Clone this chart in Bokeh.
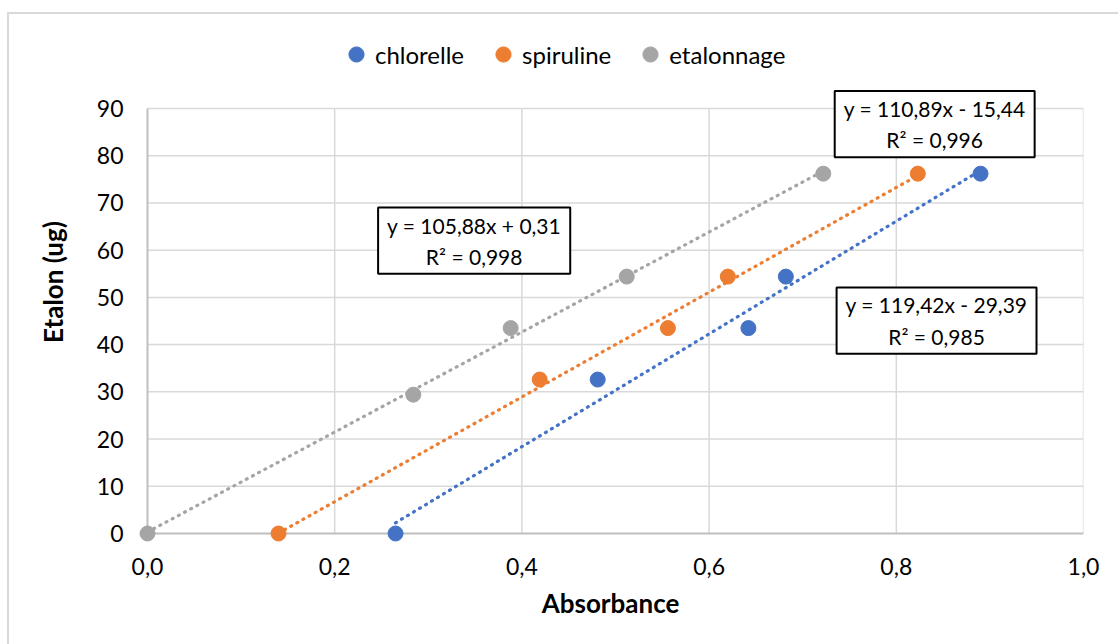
from bokeh.plotting import figure
from bokeh.models import (ColumnDataSource, Legend, LegendItem, Label, FixedTicker,
                          Range1d)
from bokeh.embed import file_html
from bokeh.resources import INLINE

# ---- data ----
series_names = ["chlorelle", "spiruline", "etalonnage"]
series_colors = ["#4472C4", "#ED7D31", "#A5A5A5"]

chlorelle_x = [0.265, 0.481, 0.642, 0.682, 0.890]
chlorelle_y = [0.0, 32.6, 43.5, 54.4, 76.2]

spiruline_x = [0.140, 0.419, 0.556, 0.620, 0.823]
spiruline_y = [0.0, 32.6, 43.5, 54.4, 76.2]

etalonnage_x = [0.0, 0.284, 0.388, 0.512, 0.722]
etalonnage_y = [0.0, 29.4, 43.5, 54.4, 76.2]

# linear trendlines (from the equations shown on the chart)
trend_slopes = [119.42, 110.89, 105.88]
trend_intercepts = [-29.39, -15.44, 0.31]
trend_labels = ["y = 119,42x - 29,39\nR² = 0,985",
                "y = 110,89x - 15,44\nR² = 0,996",
                "y = 105,88x + 0,31\nR² = 0,998"]
# label anchor positions in data units (centre of each box)
trend_label_x = [0.843, 0.841, 0.349]
trend_label_y = [45.1, 86.7, 62.0]

x_ticks = [0.0, 0.2, 0.4, 0.6, 0.8, 1.0]
x_tick_labels = ["0,0", "0,2", "0,4", "0,6", "0,8", "1,0"]
y_ticks = [0, 10, 20, 30, 40, 50, 60, 70, 80, 90]

xs = [chlorelle_x, spiruline_x, etalonnage_x]
ys = [chlorelle_y, spiruline_y, etalonnage_y]

FONT = "Lato"

# layout (pixels)
W, H = 1118, 644
PAD = 10                      # extra room so markers on the axes are not clipped
LEFT, RIGHT, TOP, BOTTOM = 147 - PAD, 35, 20, 111 - PAD
PX_X = 936.0                  # pixels for the 0..1 span
PX_Y = 425.0                  # pixels for the 0..90 span
x_min, x_max = x_ticks[0], x_ticks[-1]
y_min, y_max = y_ticks[0], y_ticks[-1]
x_start = x_min - PAD * (x_max - x_min) / PX_X
y_start = y_min - PAD * (y_max - y_min) / PX_Y
y_end = y_max + (533 - PX_Y - TOP) * (y_max - y_min) / PX_Y

p = figure(width=W, height=H, output_backend="svg", toolbar_location=None,
           x_range=Range1d(x_start, x_max), y_range=Range1d(y_start, y_end),
           min_border_left=LEFT, min_border_right=RIGHT, min_border_top=TOP,
           min_border_bottom=BOTTOM)
p.styles = {
    "background": "linear-gradient(#D9D9D9,#D9D9D9) 7px 12px / 2px 100% no-repeat,"
                  " linear-gradient(#D9D9D9,#D9D9D9) 7px 12px / 100% 2px no-repeat"
}
p.border_fill_color = None
p.background_fill_color = "white"
p.outline_line_color = None

# grid lines limited to the 0..1 x 0..90 box
p.grid.visible = False
gx = x_ticks[1:]
p.segment(x0=gx, y0=[y_min] * len(gx), x1=gx, y1=[y_max] * len(gx),
          line_color="#D9D9D9", line_width=1.5)
gy = y_ticks[1:]
p.segment(x0=[x_min] * len(gy), y0=gy, x1=[x_max] * len(gy), y1=gy,
          line_color="#D9D9D9", line_width=1.5)
# axis lines crossing at the origin
p.segment(x0=[x_min, x_min], y0=[y_min, y_min], x1=[x_max, x_min],
          y1=[y_min, y_max], line_color="#BFBFBF", line_width=2)

# axes (labels only)
p.xaxis.ticker = FixedTicker(ticks=x_ticks)
p.xaxis.major_label_overrides = {t: l for t, l in zip(x_ticks, x_tick_labels)}
p.yaxis.ticker = FixedTicker(ticks=y_ticks)
for ax in (p.xaxis, p.yaxis):
    ax.axis_line_color = None
    ax.major_tick_line_color = None
    ax.minor_tick_line_color = None
    ax.major_tick_out = 0
    ax.major_tick_in = 0
    ax.major_label_text_font = FONT
    ax.major_label_text_font_size = "23px"
    ax.major_label_text_color = "#000000"
    ax.axis_label_text_font = FONT
    ax.axis_label_text_font_size = "26px"
    ax.axis_label_text_font_style = "bold"
    ax.axis_label_text_color = "#000000"
p.xaxis.axis_label = "Absorbance"
p.yaxis.axis_label = "Etalon (ug)"
p.xaxis.major_label_standoff = 24 - PAD
p.yaxis.major_label_standoff = 24 - PAD
p.xaxis.axis_label_standoff = 9
p.yaxis.axis_label_standoff = 25

renderers = []
for name, color, x, y, m, b in zip(series_names, series_colors, xs, ys,
                                   trend_slopes, trend_intercepts):
    x0, x1 = min(x), max(x)
    p.line([x0, x1], [m * x0 + b, m * x1 + b], line_color=color, line_width=3.2,
           line_dash="1 6", line_cap="round")
for name, color, x, y in zip(series_names, series_colors, xs, ys):
    src = ColumnDataSource(dict(x=x, y=y))
    r = p.scatter("x", "y", source=src, size=15, fill_color=color,
                  line_color=color)
    renderers.append(r)

for txt, lx, ly in zip(trend_labels, trend_label_x, trend_label_y):
    p.add_layout(Label(x=lx, y=ly, text=txt, text_align="center",
                       text_baseline="middle", text_font=FONT,
                       text_font_size="21px", text_color="#000000",
                       text_line_height=1.25,
                       background_fill_color="white",
                       border_line_color="#000000", border_line_width=2,
                       padding=(9, 5)))

legend = Legend(items=[LegendItem(label=n, renderers=[r])
                       for n, r in zip(series_names, renderers)],
                orientation="horizontal", location=(190 + PAD, 460 + PAD),
                label_text_font=FONT, label_text_font_size="24px",
                label_text_color="#000000",
                glyph_width=38, glyph_height=38, label_height=24,
                label_standoff=0, spacing=20, padding=0, margin=0,
                border_line_color=None, background_fill_alpha=0)
p.add_layout(legend, "center")

open("out.html", "w").write(file_html(p, INLINE))
